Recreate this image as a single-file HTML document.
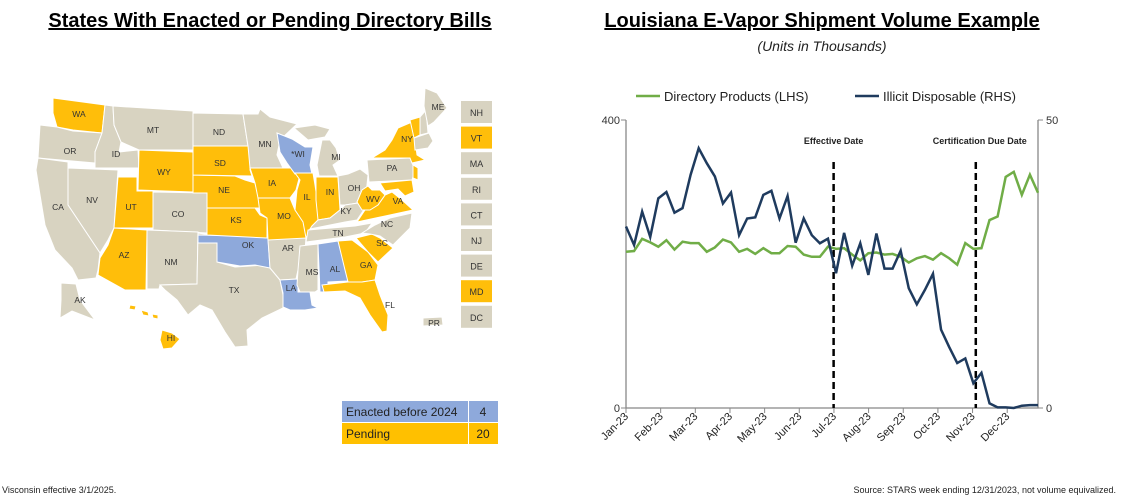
<!DOCTYPE html>
<html><head><meta charset="utf-8"><style>
body{margin:0;background:#fff;width:1125px;height:502px;overflow:hidden;font-family:"Liberation Sans",Arial,sans-serif}
svg{position:absolute;left:0;top:0}
</style></head><body>
<svg id="s" width="1125" height="502" viewBox="0 0 1125 502">
<text x="270" y="27" text-anchor="middle" font-size="20" font-weight="bold" text-decoration="underline">States With Enacted or Pending Directory Bills</text>
<text x="822" y="27" text-anchor="middle" font-size="20" font-weight="bold" text-decoration="underline">Louisiana E-Vapor Shipment Volume Example</text>
<text x="822" y="51" text-anchor="middle" font-size="14" font-style="italic" fill="#222">(Units in Thousands)</text>
<g id="map" stroke="#fff" stroke-width="1"></g>
<g id="maplabels" font-size="8.5" fill="#333" text-anchor="middle"></g>
<g id="side"></g>
<g>
<rect x="342" y="401" width="126" height="21" fill="#8EA9DB"/><rect x="469" y="401" width="29" height="21" fill="#8EA9DB"/>
<rect x="342" y="423" width="126" height="21" fill="#FFC000"/><rect x="469" y="423" width="29" height="21" fill="#FFC000"/>
<text x="346" y="416" font-size="12" fill="#222">Enacted before 2024</text><text x="483" y="416" font-size="12" text-anchor="middle" fill="#222">4</text>
<text x="346" y="438" font-size="12" fill="#222">Pending</text><text x="483" y="438" font-size="12" text-anchor="middle" fill="#222">20</text>
</g>
<text x="2" y="493" font-size="9" fill="#222">Visconsin effective 3/1/2025.</text>
<text x="1116" y="493" font-size="9" fill="#222" text-anchor="end">Source: STARS week ending 12/31/2023, not volume equivalized.</text>
<g id="chart"></g>
</svg>
<script>
const NS="http://www.w3.org/2000/svg";
function mk(t,a,p){const e=document.createElementNS(NS,t);for(const k in a)e.setAttribute(k,a[k]);p.appendChild(e);return e;}
const G="#D8D3C1",Y="#FFBE0A",B="#8EA9DB";
const states=[
["WA",Y,"53,98 105,105 102,133 73,130 57,127 53,113",79,117],
["OR",G,"40,125 57,127 73,131 102,133 95,152 95,163 38,158",70,154],
["ID",G,"105,105 113,106 114,125 121,142 119,152 138,150 139,168 95,168 95,152 102,133",116,157],
["MT",G,"113,106 193,111 193,150 139,150 121,142 114,125",153,133],
["WY",Y,"139,150 193,152 193,192 138,190",164,175],
["NV",G,"68,168 118,170 114,228 108,240 100,253 68,205",92,203],
["CA",G,"38,158 68,162 68,205 100,253 98,270 96,278 78,280 72,268 55,250 45,225 40,195 36,170",58,210],
["UT",Y,"118,177 137,177 137,191 153,191 153,228 114,228",131,210],
["CO",G,"153,192 207,193 207,233 153,230",178,217],
["AZ",Y,"114,228 147,230 146,290 125,290 98,275 100,258 108,245",124,258],
["NM",G,"147,230 198,232 197,284 160,285 159,289 147,289",171,265],
["TX",G,"198,233 217,236 217,262 235,267 250,266 263,265 270,268 280,280 283,295 283,308 262,318 247,330 248,346 235,347 225,332 212,310 200,305 188,315 177,300 165,290 160,285 197,284",234,293],
["OK",B,"198,235 248,236 268,238 270,268 255,265 240,266 217,262 217,243 198,243",248,248],
["KS",Y,"207,208 255,208 260,215 267,218 267,238 207,235",236,223],
["NE",Y,"193,175 235,176 245,180 255,183 258,195 262,208 207,208 207,193 193,193",224,193],
["SD",Y,"193,146 250,146 250,170 252,176 193,175",220,166],
["ND",G,"193,113 243,114 248,146 193,146",219,135],
["MN",G,"243,114 258,114 260,109 270,117 297,124 280,140 277,155 283,168 250,168 248,146",265,147],
["IA",Y,"250,168 295,168 300,175 296,190 290,198 258,198 255,183",272,186],
["MO",Y,"258,198 290,198 295,210 303,220 308,230 306,240 268,240 267,218 260,213",284,219],
["AR",G,"268,240 306,238 305,250 298,270 296,279 280,280 270,268",288,251],
["LA",B,"280,280 298,279 298,292 310,292 312,305 318,308 305,310 290,310 283,307 283,293",291,291],
["WI",B,"277,133 292,139 305,147 313,147 310,165 312,174 295,174 287,163 280,152",298,157],
["MI",G,"322,140 330,140 336,148 340,160 333,165 338,176 319,176 317,165",336,160],
["MI2",G,"294,128 315,125 330,129 325,137 308,140",0,0],
["IL",Y,"295,173 313,173 315,185 318,205 318,220 312,226 306,238 303,222 295,210 297,190 300,180",307,200],
["IN",Y,"316,177 338,177 340,210 330,218 318,220 316,200",330,195],
["OH",G,"338,176 348,174 360,169 368,175 366,195 358,203 345,205 340,205",354,191],
["KY",G,"312,226 318,220 330,218 340,210 345,205 358,203 365,208 357,220 345,222 310,229",346,214],
["TN",G,"308,230 355,226 372,223 365,233 345,237 306,242",338,236],
["MS",G,"300,246 318,244 318,290 315,292 300,292 297,285 298,270",312,275],
["AL",B,"318,244 338,241 347,275 348,281 328,282 328,292 320,292",335,272],
["GA",Y,"338,241 352,240 368,252 378,265 375,280 362,282 348,282 345,270",366,268],
["FL",Y,"322,285 348,282 362,282 375,280 380,295 388,315 387,331 382,332 370,315 360,298 345,291 324,292",390,308],
["SC",Y,"356,238 372,234 380,238 393,248 378,262 368,252",382,246],
["NC",G,"362,233 375,225 390,218 412,213 410,228 393,245 380,236 370,234",387,227],
["VA",Y,"357,222 365,210 378,205 385,195 392,192 402,200 413,210",398,204],
["WV",Y,"357,202 362,190 368,186 372,190 380,190 385,195 378,205 370,210 362,210",373,202],
["PA",G,"367,160 410,158 415,170 412,180 369,182",392,171],
["NY",Y,"372,158 385,150 392,140 398,128 412,122 415,140 417,155 425,160 412,163 410,158",407,142],
["MD",Y,"380,183 412,180 414,192 405,196 398,189 385,191",0,0],
["NJ",Y,"413,165 418,168 418,180 413,178",0,0],
["VT",Y,"410,120 420,117 420,135 414,138",0,0],
["NH",G,"420,117 426,110 428,133 420,135",0,0],
["ME",G,"425,88 437,93 447,108 434,122 428,126 424,106",438,110],
["NE2",G,"414,138 429,133 433,141 428,148 415,150",0,0],
["AK",G,"61,283 76,284 80,300 95,320 72,311 60,318 61,300",80,303],
["HI",Y,"162,330 172,333 180,339 172,348 163,349 160,340",171,341],
["HI2",Y,"130,305 136,306 135,310 129,309",0,0],
["HI3",Y,"141,310 148,312 149,316 143,315",0,0],
["HI4",Y,"152,314 158,315 158,319 153,318",0,0],
["PR",G,"423,318 442,317 443,325 423,326",434,326]];
const map=document.getElementById('map'),ml=document.getElementById('maplabels');
states.forEach(s=>{const p=mk('polygon',{points:s[2],fill:s[1]},map);


if(s[3]){const t=mk('text',{x:s[3],y:s[4]},ml);t.textContent=s[0]==="WI"?"*WI":s[0];

}});
const side=[["NH",G],["VT",Y],["MA",G],["RI",G],["CT",G],["NJ",G],["DE",G],["MD",Y],["DC",G]];
const sg=document.getElementById('side');
side.forEach((s,i)=>{const y=101+i*25.6;const r=mk('rect',{x:461,y:y,width:31,height:22,fill:s[1]},sg);


const t=mk('text',{x:476.5,y:y+15,"font-size":9,"text-anchor":"middle",fill:"#333"},sg);t.textContent=s[0];});

// ---- chart data ----
const months=["Jan-23","Feb-23","Mar-23","Apr-23","May-23","Jun-23","Jul-23","Aug-23","Sep-23","Oct-23","Nov-23","Dec-23"];
const directory=[217,218,235,230,224,233,220,231,229,229,217,223,234,230,217,221,214,222,215,215,225,224,213,210,210,224,221,222,213,205,215,216,213,214,210,202,208,211,206,215,208,199,229,221,222,261,266,321,328,296,324,299];
const illicit=[31.5,28.3,34.1,29.7,36.4,37.5,33.9,34.7,40.5,45.1,42.5,40.2,35.5,37.4,30.0,32.9,33.1,37.0,37.7,32.9,36.8,28.7,32.9,30.0,28.6,29.4,23.4,30.4,24.7,28.6,23.1,30.3,24.2,24.2,27.3,20.8,18.0,20.5,23.3,13.6,10.6,7.8,8.6,4.3,6.1,0.8,0.1,0.1,0,0.4,0.5,0.5];
const eventWeeks=[25.7,43.3];
const eventLabels=["Effective Date","Certification Due Date"];
const leftTicks=[0,400],rightTicks=[0,50];

const X0=626,X1=1038,Yb=408,Yt=120,nW=52;
const xs=w=>X0+w*(X1-X0)/(nW-1);
const yl=v=>Yb-v/400*(Yb-Yt);
const yr=v=>Yb-v/50*(Yb-Yt);
const c=document.getElementById('chart');
const ax=mk('path',{d:`M${X0},${Yt}V${Yb}H${X1}V${Yt}`,fill:"none",stroke:"#888","stroke-width":1.3},c);


leftTicks.forEach(v=>{mk('line',{x1:X0-5,x2:X0,y1:yl(v),y2:yl(v),stroke:"#888"},c);
const t=mk('text',{x:X0-6,y:yl(v)+4,"font-size":11,"text-anchor":"end",fill:"#333"},c);t.textContent=v;

});
rightTicks.forEach(v=>{mk('line',{x1:X1,x2:X1+5,y1:yr(v),y2:yr(v),stroke:"#888"},c);
const t=mk('text',{x:X1+8,y:yr(v)+4,"font-size":11,fill:"#333"},c);t.textContent=v;

});
months.forEach((m,i)=>{const x=xs(i*(nW)/12*0.99);mk('line',{x1:x,x2:x,y1:Yb,y2:Yb+5,stroke:"#888"},c);
const t=mk('text',{x:x+3,y:Yb+9,"font-size":11,"text-anchor":"end",fill:"#222",transform:`rotate(-45 ${x+3} ${Yb+9})`},c);t.textContent=m;

});
eventWeeks.forEach((w,i)=>{const x=xs(w);const l=mk('line',{x1:x,x2:x,y1:162,y2:Yb,stroke:"#000","stroke-width":2.5,"stroke-dasharray":"7,4"},c);


const t=mk('text',{x:x+(i?4:0),y:144,"font-size":9,"font-weight":"bold","text-anchor":"middle",fill:"#222"},c);t.textContent=eventLabels[i];

});
const g=mk('polyline',{points:directory.map((v,i)=>xs(i)+","+yl(v)).join(" "),fill:"none",stroke:"#70AD47","stroke-width":2.5},c);


const b=mk('polyline',{points:illicit.map((v,i)=>xs(i)+","+yr(v)).join(" "),fill:"none",stroke:"#1F3B5E","stroke-width":2.5},c);


[[636,"#70AD47","Directory Products (LHS)"],[855,"#1F3B5E","Illicit Disposable (RHS)"]].forEach(L=>{
const l=mk('line',{x1:L[0],x2:L[0]+24,y1:96,y2:96,stroke:L[1],"stroke-width":2.5},c);


const t=mk('text',{x:L[0]+28,y:101,"font-size":13,fill:"#222"},c);t.textContent=L[2];

});
</script>
</body></html>
